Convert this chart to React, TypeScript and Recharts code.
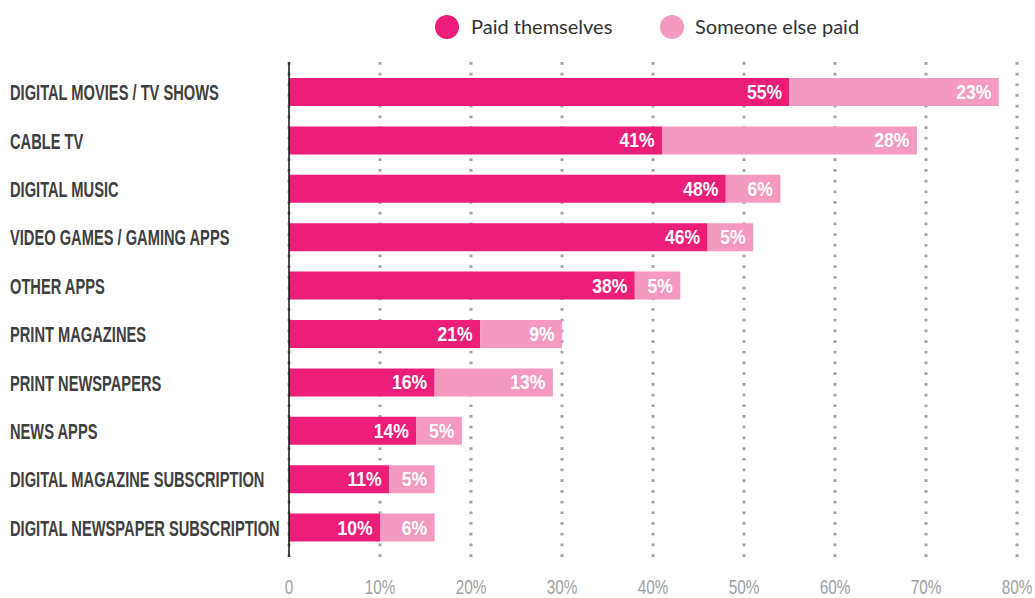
import React from 'react';
import {
  BarChart, Bar, XAxis, YAxis, CartesianGrid, Legend, LabelList
} from 'recharts';

const categories = [
  'DIGITAL MOVIES / TV SHOWS',
  'CABLE TV',
  'DIGITAL MUSIC',
  'VIDEO GAMES / GAMING APPS',
  'OTHER APPS',
  'PRINT MAGAZINES',
  'PRINT NEWSPAPERS',
  'NEWS APPS',
  'DIGITAL MAGAZINE SUBSCRIPTION',
  'DIGITAL NEWSPAPER SUBSCRIPTION',
];
const paidThemselves = [55, 41, 48, 46, 38, 21, 16, 14, 11, 10];
const someoneElsePaid = [23, 28, 6, 5, 5, 9, 13, 5, 5, 6];
const xTicks = [0, 10, 20, 30, 40, 50, 60, 70, 80];

const data = categories.map((name, i) => ({
  name,
  paid: paidThemselves[i],
  other: someoneElsePaid[i],
}));

const DARK = '#ED1E79';
const LIGHT = '#F49AC1';
const FONT = '"Liberation Sans", Arial, sans-serif';

// the original uses a very condensed display face, so squeeze a regular one
const CategoryTick = (props: any) => {
  const { y, payload } = props;
  return (
    <text transform={`translate(10, ${y}) scale(0.667, 1)`} dy="0.36em" textAnchor="start"
      fill="#404040" fontFamily={FONT} fontWeight={700} fontSize={22}>
      {payload.value}
    </text>
  );
};

const PercentTick = (props: any) => {
  const { x, y, payload } = props;
  const label = payload.value === 0 ? '0' : `${payload.value}%`;
  return (
    <text transform={`translate(${x}, ${y}) scale(0.73, 1)`} dy="0.71em" textAnchor="middle"
      fill="#a0a0a0" fontFamily={FONT} fontSize={21}>
      {label}
    </text>
  );
};

const ValueLabel = (props: any) => {
  const { x, y, width, height, value } = props;
  return (
    <text transform={`translate(${x + width - 7.5}, ${y + height / 2}) scale(0.9, 1)`} dy="0.36em"
      textAnchor="end" fill="#fff" fontFamily={FONT} fontWeight={700} fontSize={19.5}>
      {`${value}%`}
    </text>
  );
};

const LegendContent = () => (
  <div style={{ position: 'relative', width: 1035, height: 54, fontFamily: 'Lato, sans-serif', fontSize: 20, color: '#333' }}>
    <span style={{ position: 'absolute', left: 435, top: 7, width: 24, height: 24, borderRadius: 12, background: DARK }} />
    <span style={{ position: 'absolute', left: 471, top: 5, lineHeight: '26px' }}>Paid themselves</span>
    <span style={{ position: 'absolute', left: 660, top: 7, width: 24, height: 24, borderRadius: 12, background: LIGHT }} />
    <span style={{ position: 'absolute', left: 695, top: 5, lineHeight: '26px' }}>Someone else paid</span>
  </div>
);

export default function App() {
  return (
    <div style={{ position: 'absolute', left: 0, top: 0, background: '#fff' }}>
      <BarChart
        width={1035}
        height={598}
        data={data}
        layout="vertical"
        margin={{ top: 8, right: 18, bottom: 0, left: 0 }}
      >
        <Legend verticalAlign="top" align="left" content={<LegendContent />}
          wrapperStyle={{ left: 0, top: 8, width: 1035, height: 54 }} />
        <CartesianGrid horizontal={false} stroke="#a3a3a3" strokeWidth={3} strokeDasharray="2.7 8" />
        <XAxis
          type="number"
          domain={[0, 80]}
          ticks={xTicks}
          axisLine={false}
          tickLine={false}
          tickMargin={16}
          height={41}
          tick={<PercentTick />}
          interval={0}
        />
        <YAxis
          type="category"
          dataKey="name"
          width={289}
          padding={{ top: 6, bottom: 5 }}
          axisLine={{ stroke: '#111', strokeWidth: 1.5 }}
          tickLine={false}
          tick={<CategoryTick />}
          interval={0}
        />
        <Bar dataKey="paid" stackId="a" fill={DARK} barSize={28} isAnimationActive={false}>
          <LabelList dataKey="paid" content={<ValueLabel />} />
        </Bar>
        <Bar dataKey="other" stackId="a" fill={LIGHT} barSize={28} isAnimationActive={false}>
          <LabelList dataKey="other" content={<ValueLabel />} />
        </Bar>
      </BarChart>
    </div>
  );
}
